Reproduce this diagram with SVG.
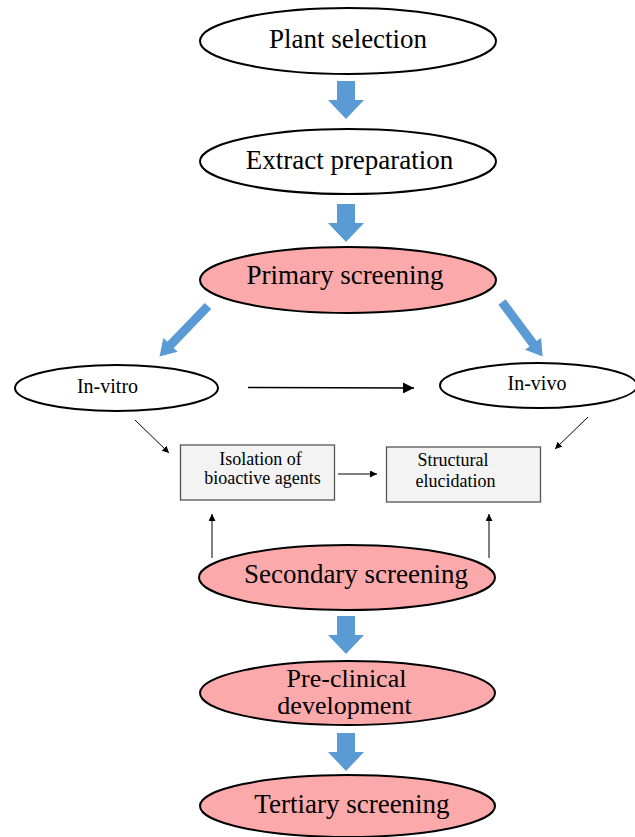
<svg xmlns="http://www.w3.org/2000/svg" width="635" height="837" viewBox="0 0 635 837">
<style>
.n{fill:#fff;stroke:#000;stroke-width:2}
.p{fill:#fba9aa;stroke:#000;stroke-width:2}
.b{fill:#f3f3f3;stroke:#555;stroke-width:1.3}
.t{font-family:"Liberation Serif","Times New Roman",serif;font-size:27px;fill:#000;text-anchor:middle}
.t2{font-family:"Liberation Serif","Times New Roman",serif;font-size:26px;fill:#000;text-anchor:middle}
.s{font-family:"Liberation Serif","Times New Roman",serif;font-size:20px;fill:#000;text-anchor:middle}
.r{font-family:"Liberation Serif","Times New Roman",serif;font-size:18px;fill:#000;text-anchor:middle}
.ba{fill:#5b9bd5}
.l{stroke:#000;fill:none}
</style>
<defs>
<marker id="ah" viewBox="0 0 10 10" refX="10" refY="5" markerWidth="7" markerHeight="7" markerUnits="userSpaceOnUse" orient="auto"><path d="M0,0L10,5L0,10z" fill="#000"/></marker>
<marker id="ahL" viewBox="0 0 10 10" refX="10" refY="5" markerWidth="11" markerHeight="11" markerUnits="userSpaceOnUse" orient="auto"><path d="M0,0L10,5L0,10z" fill="#000"/></marker>
<path id="blk" d="M-9,0H9V19H18L0,38L-18,19H-9Z"/>
</defs>
<g id="connectors">
<use href="#blk" class="ba" transform="translate(346,81)"/>
<use href="#blk" class="ba" transform="translate(346,204)"/>
<use href="#blk" class="ba" transform="translate(346,616)"/>
<use href="#blk" class="ba" transform="translate(346,733)"/>
<path class="ba" d="M0,-4.5H54V-10L70,0L54,10V4.5H0Z" transform="translate(208,306) rotate(133.9)"/>
<path class="ba" d="M0,-4.5H52V-10L68,0L52,10V4.5H0Z" transform="translate(502,302) rotate(53.3)"/>
<line class="l" x1="248" y1="387.5" x2="414" y2="388" stroke-width="1.5" marker-end="url(#ahL)"/>
<line class="l" x1="135" y1="420" x2="169" y2="453" stroke-width="1" marker-end="url(#ah)"/>
<line class="l" x1="588" y1="417" x2="555" y2="449" stroke-width="1" marker-end="url(#ah)"/>
<line class="l" x1="338" y1="474" x2="377" y2="474" stroke-width="1" marker-end="url(#ah)"/>
<line class="l" x1="212" y1="558" x2="212" y2="514" stroke-width="1" marker-end="url(#ah)"/>
<line class="l" x1="489" y1="558" x2="489" y2="514" stroke-width="1" marker-end="url(#ah)"/>
</g>
<g id="plant-selection"><ellipse class="n" cx="348" cy="41" rx="148" ry="33"/><text class="t" x="348" y="48">Plant selection</text></g>
<g id="extract-preparation"><ellipse class="n" cx="348" cy="161.5" rx="148" ry="32.5"/><text class="t" x="349.5" y="169">Extract preparation</text></g>
<g id="primary-screening"><ellipse class="p" cx="348" cy="280" rx="148" ry="33"/><text class="t" x="345" y="284">Primary screening</text></g>
<g id="in-vitro"><ellipse class="n" cx="116.5" cy="388" rx="101.5" ry="23"/><text class="s" x="107.5" y="393">In-vitro</text></g>
<g id="in-vivo"><ellipse class="n" cx="538.5" cy="385.5" rx="98.5" ry="22.5"/><text class="s" x="537" y="390">In-vivo</text></g>
<g id="isolation"><rect class="b" x="180.5" y="445" width="154" height="55"/><text class="r" x="260.5" y="465">Isolation of</text><text class="r" x="262.5" y="484">bioactive agents</text></g>
<g id="structural"><rect class="b" x="386.5" y="447" width="154" height="55"/><text class="r" x="453" y="466">Structural</text><text class="r" x="455.5" y="487">elucidation</text></g>
<g id="secondary-screening"><ellipse class="p" cx="347" cy="577.5" rx="148" ry="32.5"/><text class="t" x="356" y="583">Secondary screening</text></g>
<g id="pre-clinical"><ellipse class="p" cx="347.5" cy="693" rx="147.5" ry="32"/><text class="t2" x="346.5" y="687">Pre-clinical</text><text class="t2" x="344.5" y="714">development</text></g>
<g id="tertiary-screening"><ellipse class="p" cx="347.5" cy="806" rx="147.5" ry="31"/><text class="t" x="352" y="813">Tertiary screening</text></g>
</svg>
